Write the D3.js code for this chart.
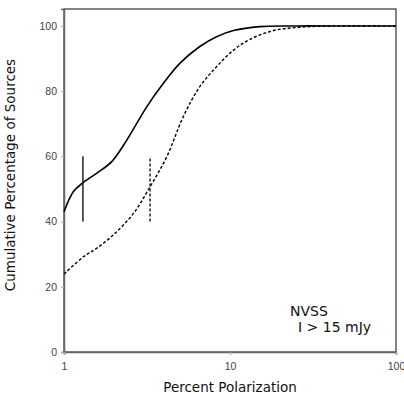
<!DOCTYPE html>
<html>
<head>
<meta charset="utf-8">
<script src="https://cdn.jsdelivr.net/npm/d3@7"></script>
<style>
body{margin:0;background:#fff;}
text{font-family:"DejaVu Sans",Verdana,sans-serif;}
</style>
</head>
<body>
<div id="chart"></div>
<script>
// cumulative polarization curves
var solidX=[1,1.14,1.3,1.57,1.94,2.39,3.15,3.97,5.0,6.58,8.3,10.5,15.1,25,40,100];
var solidY=[43,49.2,51.9,54.8,58.4,65,75.2,82.4,88.6,93.7,96.7,98.6,99.8,100,100,100];
var dashX=[1,1.31,1.57,1.98,2.62,3.3,4.16,5.23,6.58,8.3,10.5,13.2,18.3,26.3,40,100];
var dashY=[23.9,29.2,31.8,35.9,42.5,50.7,59.9,72.2,81.4,87.5,92.6,95.9,98.6,99.6,100,100];
// median markers
var medians=[{x:1.3,lo:40,hi:60,dash:null},{x:3.3,lo:40,hi:60,dash:"3,2"}];
var yTicks=[0,20,40,60,80,100];
var xTicks=[1,10,100];

var margin={top:9,right:8,bottom:44,left:64},
w=404-margin.left-margin.right,
h=396-margin.top-margin.bottom;

var svg=d3.select("#chart").append("svg")
.attr("width",404).attr("height",396)
.append("g")
.attr("transform",`translate(${margin.left},${margin.top})`);

var x=d3.scaleLog().domain([1,100]).range([0,w]);
var y=d3.scaleLinear().domain([0,105.2]).range([h,0]);

// frame (top/right)
svg.append("rect").attr("x",0).attr("y",0).attr("width",w).attr("height",h)
.attr("fill","none").attr("stroke","#333").attr("stroke-width",1.2);

var yAxis=svg.append("g").call(d3.axisLeft(y).tickValues(yTicks).tickSize(3).tickPadding(4));
var xAxis=svg.append("g").attr("transform","translate(0,"+h+")")
.call(d3.axisBottom(x).tickValues(xTicks).tickFormat(d3.format("d")).tickSize(3).tickPadding(8));
[yAxis,xAxis].forEach(function(a){
a.select(".domain").attr("stroke","#666").attr("stroke-width",1.5);
a.selectAll(".tick line").attr("stroke","#aaa");
a.selectAll(".tick text").attr("fill","#444").style("font-size","10.5px").style("font-family","'Liberation Sans',Arial,sans-serif");
});

var line=d3.line()
.x(function(d){return x(d[0]);})
.y(function(d){return y(d[1]);})
.curve(d3.curveCatmullRom.alpha(0.5));

svg.append("path").datum(d3.zip(solidX,solidY))
.attr("d",line).attr("fill","none").attr("stroke","#000").attr("stroke-width",1.6);
svg.append("path").datum(d3.zip(dashX,dashY))
.attr("d",line).attr("fill","none").attr("stroke","#000").attr("stroke-width",1.4)
.attr("stroke-dasharray","3,2");

svg.selectAll(".med").data(medians).enter().append("line")
.attr("x1",function(d){return x(d.x);}).attr("x2",function(d){return x(d.x);})
.attr("y1",function(d){return y(d.lo);}).attr("y2",function(d){return y(d.hi);})
.attr("stroke","#222").attr("stroke-width",1.5)
.attr("stroke-dasharray",function(d){return d.dash;});

svg.append("text").attr("x",226).attr("y",307).text("NVSS")
.style("font-size","14px").attr("fill","#111");
svg.append("text").attr("x",234).attr("y",323).text("I > 15 mJy")
.style("font-size","14px").attr("fill","#111");

svg.append("text").attr("x",w/2).attr("y",h+40).attr("text-anchor","middle")
.text("Percent Polarization").style("font-size","13.5px").attr("fill","#111");
svg.append("text").attr("transform","translate(-49,"+(175-margin.top)+")rotate(-90)")
.attr("text-anchor","middle").text("Cumulative Percentage of Sources")
.style("font-size","13.5px").attr("fill","#111");
</script>
</body>
</html>
